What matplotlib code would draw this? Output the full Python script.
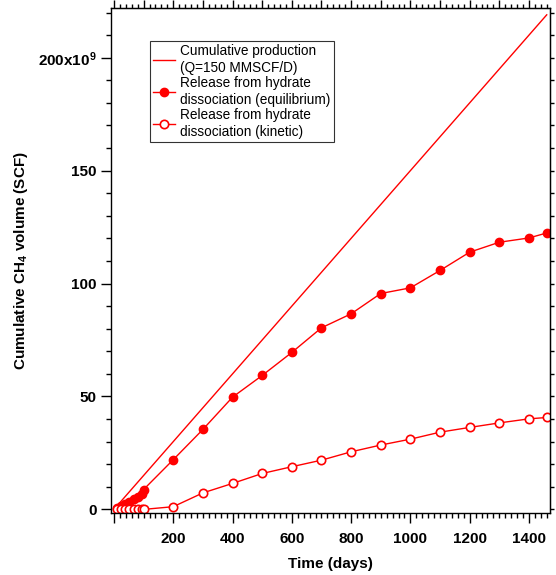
import numpy as np
import matplotlib
matplotlib.use("Agg")
import matplotlib.pyplot as plt
from matplotlib.ticker import MultipleLocator, FuncFormatter
from matplotlib.lines import Line2D

plt.rcParams['font.family'] = ['Liberation Sans', 'DejaVu Sans']
plt.rcParams['mathtext.fontset'] = 'custom'
plt.rcParams['mathtext.rm'] = 'Liberation Sans'
plt.rcParams['mathtext.bf'] = 'Liberation Sans:bold'
plt.rcParams['mathtext.default'] = 'bf'

# Production rate (MMSCF/D) and time span of the cumulative production line
rate_mmscfd = 150
prod_days = [0, 1460]

# Gas released by hydrate dissociation (10^9 SCF)
days = [10, 24, 38, 52, 66, 80, 94, 100, 200, 300, 400, 500, 600, 700,
        800, 900, 1000, 1100, 1200, 1300, 1400, 1460]
equilibrium = [0.4, 1.3, 2.3, 3.3, 4.4, 5.6, 6.6, 8.8, 22.0, 35.4, 49.7,
               59.3, 69.5, 80.4, 86.6, 95.6, 98.1, 105.8, 113.9, 118.3,
               120.2, 122.4]
kinetic = [0.0, 0.0, 0.0, 0.0, 0.0, 0.0, 0.0, 0.0, 1.2, 7.3, 11.5, 15.9,
           18.9, 21.8, 25.5, 28.5, 31.1, 34.2, 36.3, 38.3, 40.1, 40.7]

production = [rate_mmscfd * d / 1000.0 for d in prod_days]

red = '#ff0000'

fig = plt.figure(figsize=(5.56, 5.75), dpi=100)
ax = fig.add_axes([0.1996, 0.1078, 0.7896, 0.8782])

ax.plot(prod_days, production, color=red, lw=1.0)
ax.plot(days, equilibrium, color=red, lw=1.0, marker='o', ms=6,
        mfc=red, mec=red, mew=1.0)
ax.plot(days, kinetic, color=red, lw=1.0, marker='o', ms=6,
        mfc='white', mec=red, mew=1.2)

ax.set_xlim(-10, 1471)
ax.set_ylim(-1.6, 222)

ax.xaxis.set_major_locator(MultipleLocator(200))
ax.xaxis.set_minor_locator(MultipleLocator(20))
ax.yaxis.set_major_locator(MultipleLocator(50))
ax.yaxis.set_minor_locator(MultipleLocator(10))

def ylab(v, pos):
    v = int(round(v))
    if v == 200:
        return r'200x10$^{9}$'
    return str(v)

ax.yaxis.set_major_formatter(FuncFormatter(ylab))
ax.xaxis.set_major_formatter(FuncFormatter(
    lambda v, p: '' if v <= 0 else str(int(round(v)))))

ax.tick_params(axis='both', which='major', direction='out', length=7.5,
               width=1.0, labelsize=11, pad=3)
ax.tick_params(axis='x', which='major', pad=6.5)
ax.tick_params(axis='both', which='minor', direction='out', length=3.8,
               width=1.0)
for lab in ax.get_xticklabels() + ax.get_yticklabels():
    lab.set_fontweight('bold')

for s in ax.spines.values():
    s.set_linewidth(1.0)

# mirrored ticks on the top and right edges
top = ax.secondary_xaxis('top')
top.xaxis.set_major_locator(MultipleLocator(100))
top.xaxis.set_minor_locator(MultipleLocator(20))
top.tick_params(which='major', direction='out', length=6, width=1.0,
                labeltop=False)
top.tick_params(which='minor', direction='out', length=3, width=1.0)
right = ax.secondary_yaxis('right')
right.yaxis.set_major_locator(MultipleLocator(10))
right.yaxis.set_minor_locator(MultipleLocator(10))
right.tick_params(which='both', direction='out', length=3, width=1.0,
                  labelright=False)

ax.set_xlabel('Time (days)', fontsize=11, fontweight='bold', labelpad=7.5)
ax.set_ylabel(r'Cumulative CH$_4$ volume (SCF)', fontsize=11,
              fontweight='bold', labelpad=6)

handles = [
    Line2D([], [], color=red, lw=1.0),
    Line2D([], [], color=red, lw=1.0, marker='o', ms=6, mfc=red, mec=red),
    Line2D([], [], color=red, lw=1.0, marker='o', ms=6, mfc='white',
           mec=red, mew=1.2),
]
labels = ['Cumulative production\n(Q=150 MMSCF/D)',
          'Release from hydrate\ndissociation (equilibrium)',
          'Release from hydrate\ndissociation (kinetic)']
leg = ax.legend(handles, labels, loc='upper left',
                bbox_to_anchor=(0.088, 0.935), fontsize=9.8, frameon=True,
                fancybox=False, edgecolor='black', handlelength=1.6,
                handletextpad=0.4, borderpad=0.25, labelspacing=0.12,
                borderaxespad=0)
for t in leg.get_texts():
    t.set_linespacing(1.22)
leg.get_frame().set_linewidth(0.8)

fig.savefig('out.png', dpi=100)
